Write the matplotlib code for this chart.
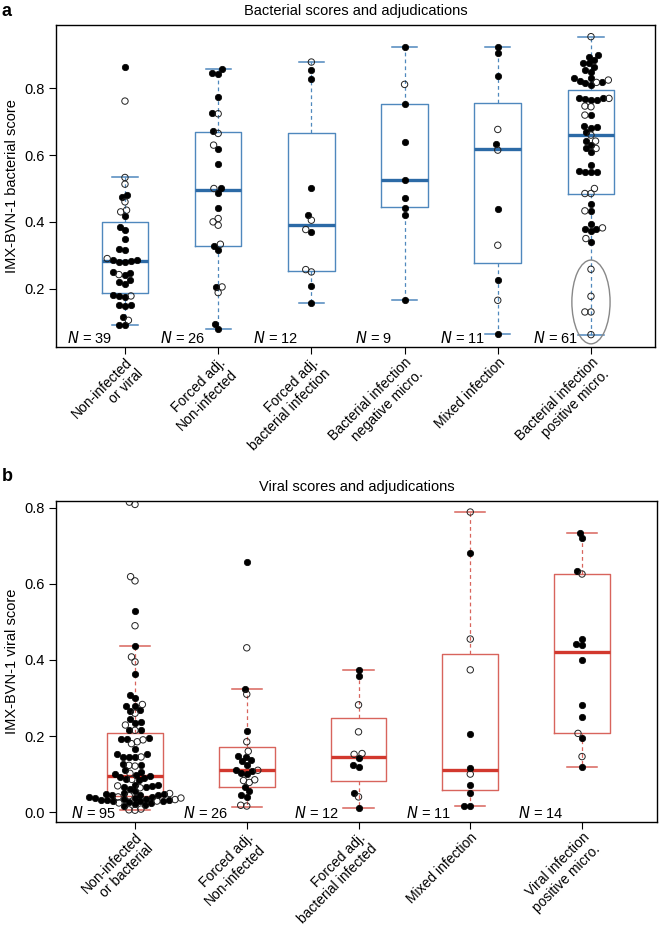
import numpy as np
import matplotlib
matplotlib.use("Agg")
import matplotlib.pyplot as plt
from matplotlib.patches import Ellipse

plt.rcParams['font.family'] = ['Liberation Sans', 'DejaVu Sans']

# ---- panel a: bacterial scores ----
bact_labels = ["Non-infected\nor viral", "Forced adj.\nNon-infected", "Forced adj.\nbacterial infection",
               "Bacterial infection\nnegative micro.", "Mixed infection", "Bacterial infection\npositive micro."]
bact_n = [39, 26, 12, 9, 11, 61]
# box stats: whisker low, q1, median, q3, whisker high
bact_whislo = [0.09, 0.08, 0.157, 0.165, 0.065, 0.062]
bact_q1 = [0.188, 0.328, 0.253, 0.445, 0.278, 0.483]
bact_med = [0.284, 0.495, 0.39, 0.525, 0.617, 0.66]
bact_q3 = [0.40, 0.67, 0.667, 0.752, 0.755, 0.795]
bact_whishi = [0.533, 0.858, 0.879, 0.925, 0.925, 0.955]
bact_filled = [
    [0.865, 0.48, 0.475, 0.417, 0.385, 0.375, 0.35, 0.32, 0.315, 0.285, 0.285, 0.283, 0.28, 0.28,
     0.25, 0.248, 0.24, 0.225, 0.22, 0.215, 0.18, 0.178, 0.175, 0.15, 0.15, 0.148, 0.115, 0.09, 0.09],
    [0.858, 0.845, 0.843, 0.773, 0.725, 0.672, 0.618, 0.572, 0.503, 0.487, 0.443, 0.328, 0.316,
     0.205, 0.095, 0.08],
    [0.855, 0.827, 0.503, 0.421, 0.37, 0.209, 0.157],
    [0.925, 0.752, 0.64, 0.525, 0.473, 0.443, 0.42, 0.165],
    [0.925, 0.905, 0.837, 0.632, 0.438, 0.227, 0.065],
    [0.90, 0.895, 0.885, 0.875, 0.875, 0.865, 0.855, 0.85, 0.83, 0.83, 0.822, 0.82, 0.815, 0.81,
     0.77, 0.77, 0.768, 0.765, 0.765, 0.72, 0.687, 0.685, 0.682, 0.67, 0.642, 0.63, 0.62, 0.61,
     0.57, 0.553, 0.55, 0.55, 0.548, 0.455, 0.433, 0.395, 0.38, 0.378, 0.372, 0.34],
]
bact_open = [
    [0.762, 0.533, 0.513, 0.46, 0.435, 0.43, 0.29, 0.242, 0.178, 0.105],
    [0.724, 0.665, 0.63, 0.5, 0.41, 0.40, 0.39, 0.333, 0.205, 0.188],
    [0.879, 0.405, 0.377, 0.25, 0.257],
    [0.812],
    [0.677, 0.615, 0.33, 0.165],
    [0.955, 0.825, 0.818, 0.77, 0.747, 0.745, 0.72, 0.66, 0.642, 0.62, 0.5, 0.485, 0.485, 0.433,
     0.382, 0.35, 0.258, 0.177, 0.13, 0.13, 0.062],
]
highlight_cut = 0.3  # low scores circled in the last bacterial group

# ---- panel b: viral scores ----
vir_labels = ["Non-infected\nor bacterial", "Forced adj.\nNon-infected", "Forced adj.\nbacterial infected",
              "Mixed infection", "Viral infection\npositive micro."]
vir_n = [95, 26, 12, 11, 14]
vir_whislo = [0.005, 0.014, 0.011, 0.016, 0.119]
vir_q1 = [0.042, 0.066, 0.082, 0.058, 0.207]
vir_med = [0.096, 0.11, 0.146, 0.11, 0.42]
vir_q3 = [0.207, 0.172, 0.247, 0.415, 0.625]
vir_whishi = [0.437, 0.325, 0.374, 0.789, 0.735]
vir_filled = [
    [0.528, 0.437, 0.364, 0.308, 0.30, 0.28, 0.279, 0.268, 0.267, 0.244, 0.236, 0.234, 0.217, 0.216,
     0.195, 0.193, 0.192, 0.167, 0.153, 0.152, 0.146, 0.145, 0.144, 0.126, 0.124, 0.11,
     0.105, 0.1, 0.098, 0.096, 0.092, 0.09, 0.088, 0.084,
     0.072, 0.07, 0.068, 0.066, 0.065, 0.062,
     0.055, 0.05, 0.048, 0.047, 0.046, 0.045, 0.044,
     0.041, 0.039, 0.038, 0.036, 0.035, 0.034, 0.033, 0.032, 0.031, 0.030, 0.029, 0.028,
     0.027, 0.025, 0.022, 0.019, 0.016],
    [0.657, 0.325, 0.214, 0.147, 0.145, 0.136, 0.134, 0.125, 0.112, 0.108, 0.102, 0.099, 0.067,
     0.055, 0.045, 0.04],
    [0.374, 0.358, 0.141, 0.124, 0.119, 0.05, 0.011],
    [0.68, 0.206, 0.117, 0.071, 0.049, 0.017, 0.016],
    [0.735, 0.72, 0.635, 0.456, 0.441, 0.44, 0.4, 0.281, 0.251, 0.195, 0.119],
]
vir_open = [
    [0.815, 0.809, 0.619, 0.608, 0.49, 0.408, 0.395, 0.283, 0.26, 0.229, 0.215, 0.19, 0.185, 0.18,
     0.145, 0.123, 0.121, 0.102, 0.086, 0.069, 0.064, 0.049, 0.043,
     0.040, 0.037, 0.033, 0.029, 0.024, 0.008, 0.006, 0.005],
    [0.432, 0.31, 0.185, 0.16, 0.11, 0.085, 0.083, 0.078, 0.018, 0.016],
    [0.282, 0.211, 0.154, 0.152, 0.04],
    [0.789, 0.455, 0.374, 0.1],
    [0.626, 0.207, 0.146],
]

BLUE_BOX, BLUE_MED = '#4f88bd', '#2c6aa6'
RED_BOX, RED_MED = '#d8645c', '#d2382e'
DOT = 6.4  # marker diameter in px


def swarm(ypix, d):
    # simple beeswarm: place points low to high, nearest free spot to the centre
    order = np.argsort(ypix, kind='stable')
    px, py = [], []
    out = np.zeros(len(ypix))
    for i in order:
        y = ypix[i]
        cands = [0.0]
        for qx, qy in zip(px, py):
            dy = abs(y - qy)
            if dy < d:
                dx = np.sqrt(d * d - dy * dy)
                cands += [qx + dx, qx - dx]
        cands.sort(key=lambda c: (round(abs(c), 6), c))
        for c in cands:
            if all((c - qx) ** 2 + (y - qy) ** 2 >= d * d - 1e-6 for qx, qy in zip(px, py)):
                out[i] = c
                break
        px.append(out[i])
        py.append(y)
    return out


def panel(ax, labels, n, wlo, q1, med, q3, whi, filled, opened, boxc, medc, xlim, ylim, yticks,
          title, ylabel, n_shift):
    pos = np.arange(1, len(labels) + 1)
    ax.set_xlim(*xlim)
    ax.set_ylim(*ylim)
    stats = [dict(whislo=a, q1=b, med=c, q3=d, whishi=e, fliers=[])
             for a, b, c, d, e in zip(wlo, q1, med, q3, whi)]
    ax.bxp(stats, positions=pos, widths=0.5, capwidths=0.27, manage_ticks=False,
           boxprops=dict(color=boxc, lw=1.0),
           whiskerprops=dict(color=boxc, lw=0.9, linestyle=(0, (3, 2.5))),
           capprops=dict(color=boxc, lw=1.1),
           medianprops=dict(color=medc, lw=2.4))
    # beeswarm in pixel space
    sx = ax.transData.transform([(0, 0), (1, 0)])
    px_per_x = sx[1, 0] - sx[0, 0]
    for p, f, o in zip(pos, filled, opened):
        vals = np.array(list(f) + list(o))
        kind = np.array([1] * len(f) + [0] * len(o))
        ypix = ax.transData.transform(np.column_stack([np.zeros(len(vals)), vals]))[:, 1]
        xs = p + swarm(ypix, DOT * 0.95) / px_per_x
        s = (DOT * 72 / 100) ** 2
        ax.scatter(xs[kind == 1], vals[kind == 1], s=s, c='black', edgecolors='black', lw=0.5, zorder=5)
        ax.scatter(xs[kind == 0], vals[kind == 0], s=s, facecolors='none', edgecolors='#222222',
                   lw=0.7, zorder=5)
    for p, k in zip(pos, n):
        ax.text(p - n_shift / px_per_x, ylim[0] + 0.027 * (ylim[1] - ylim[0]), f"$\\it{{N}}$ = {k}",
                ha='right', va='center', fontsize=10.5)
    ax.set_xticks(pos)
    ax.set_xticklabels(labels, fontsize=10, rotation=45, ha='right', va='top',
                       rotation_mode='anchor', multialignment='right')
    ax.set_yticks(yticks)
    ax.set_yticklabels([f"{t:.1f}" for t in yticks], fontsize=10.5)
    ax.tick_params(length=5, width=0.8, pad=3)
    ax.tick_params(axis='x', pad=1)
    for sp in ax.spines.values():
        sp.set_linewidth(1.0)
    ax.text(0.5, 1.043, title, transform=ax.transAxes, ha='center', va='center', fontsize=10.5)
    ax.text(-0.073, 0.5, ylabel, transform=ax.transAxes, rotation=90, ha='center', va='center',
            fontsize=10.5)
    return pos


fig = plt.figure(figsize=(6.61, 9.27), dpi=100)
ax1 = fig.add_axes([56 / 661, 1 - 347 / 927, 599 / 661, 322 / 927])
ax2 = fig.add_axes([56 / 661, 1 - 822 / 927, 601 / 661, 321 / 927])

pos1 = panel(ax1, bact_labels, bact_n, bact_whislo, bact_q1, bact_med, bact_q3, bact_whishi,
             bact_filled, bact_open, BLUE_BOX, BLUE_MED, (0.26, 6.687), (0.025, 0.99),
             [0.2, 0.4, 0.6, 0.8], "Bacterial scores and adjudications", "IMX-BVN-1 bacterial score", 13)
pos2 = panel(ax2, vir_labels, vir_n, vir_whislo, vir_q1, vir_med, vir_q3, vir_whishi,
             vir_filled, vir_open, RED_BOX, RED_MED, (0.293, 5.671), (-0.026, 0.818),
             [0.0, 0.2, 0.4, 0.6, 0.8], "Viral scores and adjudications", "IMX-BVN-1 viral score", 19)

# circle the low scores in the last bacterial group
low = [v for v in bact_filled[-1] + bact_open[-1] if v < highlight_cut]
ell = Ellipse((pos1[-1], (min(low) + max(low)) / 2), 0.41, max(low) - min(low) + 0.055,
              fill=False, edgecolor='#888888', lw=1.0, zorder=6)
ax1.add_patch(ell)

fig.text(0.003, 0.997, 'a', fontsize=13, fontweight='bold', va='top', ha='left')
fig.text(0.003, 1 - 468 / 927, 'b', fontsize=13, fontweight='bold', va='top', ha='left')

fig.savefig('out.png', dpi=100)
